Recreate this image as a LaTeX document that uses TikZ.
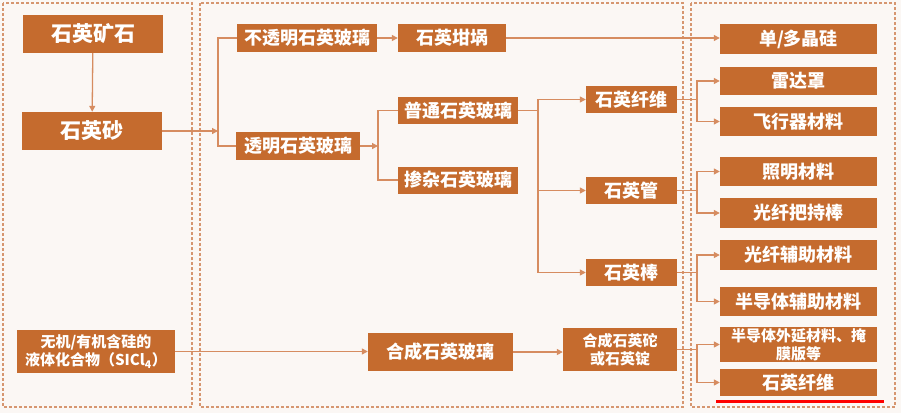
\documentclass[tikz,border=0pt]{standalone}
\usepackage{fontspec}
\setmainfont{Noto Sans CJK SC}
\usepackage{xcolor}
\usepackage{tikz}
\usetikzlibrary{arrows.meta}
\definecolor{boxc}{RGB}{197,107,46}
\definecolor{linec}{RGB}{214,140,96}
\definecolor{panelc}{RGB}{214,150,112}
\definecolor{bgc}{RGB}{251,247,244}
\begin{document}
\begin{tikzpicture}[x=1pt,y=-1pt,>={Triangle[length=6pt,width=6pt]},
box/.style={fill=boxc,text=white,inner sep=0pt,align=center,font=\bfseries\fontsize{18}{20}\selectfont},
big/.style={box,font=\bfseries\fontsize{21}{24}\selectfont},
small/.style={box,font=\bfseries\fontsize{15}{18}\selectfont},
mid/.style={box,minimum width=91pt,minimum height=27pt},
app/.style={box,minimum width=157pt},
link/.style={draw=linec,line width=1.3pt},
panel/.style={draw=panelc,line width=1.2pt,dash pattern=on 3pt off 2pt}]
\useasboundingbox[fill=bgc](0,0)rectangle(901,413);
\draw[panel](3,3)rectangle(192,407);
\draw[panel](200,3)rectangle(683,407);
\draw[panel](691,3)rectangle(895,407);
\node[big,minimum width=140pt,minimum height=38pt](ore)at(93,34){石英矿石};
\node[big,minimum width=140pt,minimum height=38pt](sand)at(92,131){石英砂};
\node[small,minimum width=158pt,minimum height=43pt](liquid)at(96,351.5){无机/有机含硅的\\液体化合物（SICl\textsubscript{4}）};
\node[box,minimum width=140pt,minimum height=28pt](opaque)at(307,38){不透明石英玻璃};
\node[box,minimum width=108pt,minimum height=28pt](crucible)at(452,38){石英坩埚};
\node[box,minimum width=124pt,minimum height=28pt](clear)at(298,146){透明石英玻璃};
\node[box,minimum width=120pt,minimum height=27pt](common)at(458,110.5){普通石英玻璃};
\node[box,minimum width=120pt,minimum height=27pt](doped)at(458,180){掺杂石英玻璃};
\node[mid](fiber)at(631.5,99.5){石英纤维};
\node[mid](tube)at(631.5,190.5){石英管};
\node[mid](rod)at(631.5,272.5){石英棒};
\node[box,minimum width=145pt,minimum height=38pt](synglass)at(440.5,352){合成石英玻璃};
\node[small,minimum width=114pt,minimum height=43pt](ingot)at(620,349.5){合成石英砣\\或石英锭};
\node[app,minimum height=30pt](si)at(798.5,39){单/多晶硅};
\node[app,minimum height=28pt](radome)at(798.5,81){雷达罩};
\node[app,minimum height=29pt](aircraft)at(798.5,121.5){飞行器材料};
\node[app,minimum height=29pt](light)at(798.5,171.5){照明材料};
\node[app,minimum height=30pt](holder)at(798.5,213){光纤把持棒};
\node[app,minimum height=30pt](aux)at(798.5,255){光纤辅助材料};
\node[app,minimum height=29pt](semi)at(798.5,301.5){半导体辅助材料};
\node[small,minimum width=157pt,minimum height=35pt](epi)at(798.5,344.5){半导体外延材料、掩\\膜版等};
\node[app,minimum height=27pt](qfiber)at(798.5,382.5){石英纤维};
\coordinate(j1)at(218,131);
\coordinate(j2)at(378,146);
\coordinate(j3)at(538,110.5);
\coordinate(j4)at(697,99.5);
\coordinate(j5)at(697,190.5);
\coordinate(j6)at(697,272.5);
\coordinate(j7)at(697,349.5);
\draw[link,->](ore)--(sand);
\draw[link,->](sand)--(j1);
\draw[link](opaque.west)-|(j1)|-(clear.west);
\draw[link,->](opaque)--(crucible);
\draw[link,->](crucible.east)--(crucible.east-|si.west);
\draw[link,->](clear)--(j2);
\draw[link](common.west)-|(j2)|-(doped.west);
\draw[link](common)--(j3);
\draw[link,->](j3)|-(fiber.west);
\draw[link,->](j3)|-(tube.west);
\draw[link,->](j3)|-(rod.west);
\draw[link](fiber)--(j4);
\draw[link,->](j4)|-(radome.west);
\draw[link,->](j4)|-(aircraft.west);
\draw[link](tube)--(j5);
\draw[link,->](j5)|-(light.west);
\draw[link,->](j5)|-(holder.west);
\draw[link](rod)--(j6);
\draw[link,->](j6)|-(aux.west);
\draw[link,->](j6)|-(semi.west);
\draw[link](ingot)--(j7);
\draw[link,->](j7)|-(epi.west);
\draw[link,->](j7)|-(qfiber.west);
\draw[link,->](liquid.east)--(liquid.east-|synglass.west);
\draw[link,->](synglass.east)--(synglass.east-|ingot.west);
\draw[red,line width=3pt](716,401.5)--(884,401.5);
\end{tikzpicture}
\end{document}
